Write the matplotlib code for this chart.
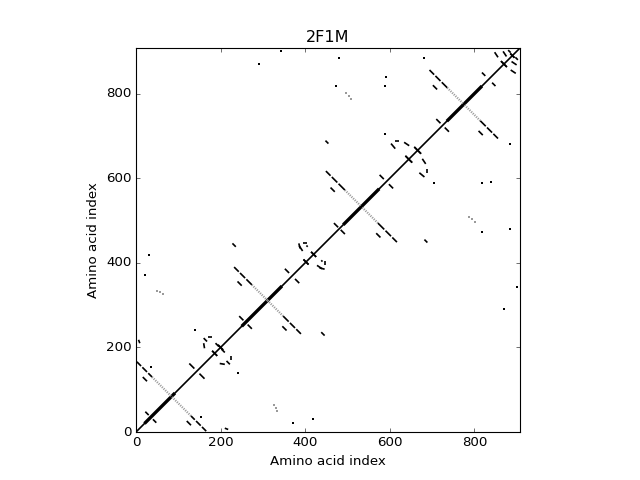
import matplotlib
matplotlib.use('Agg')
import matplotlib.pyplot as plt

# contact map of 2F1M, symmetric: everything is listed once (i < j) and mirrored
N_RES = 908
TICKS = [0, 200, 400, 600, 800]

# residue ranges where the diagonal band is thick (helices)
helix_ranges = [(20, 92), (250, 345), (490, 575), (735, 818)]

# antiparallel bands: black dashes (i0, j0, i1, j1)
band_dashes = [
    (2, 166, 12, 156), (15, 153, 26, 142), (29, 139, 38, 130),
    (232, 390, 243, 379), (246, 376, 258, 364), (261, 361, 274, 348),
    (449, 617, 460, 606), (463, 603, 476, 590), (479, 587, 494, 572),
    (694, 856, 705, 845), (708, 842, 720, 830), (723, 827, 736, 814),
]
# weak part of the same bands, from end of black part to the diagonal
band_weak = [
    (38, 130, 84, 84),
    (274, 348, 311, 311),
    (494, 572, 533, 533),
    (736, 814, 775, 775),
]
# shorter parallel dashes next to the bands
side_dashes = [
    (16, 130, 26, 120), (240, 356, 250, 346),
    (460, 578, 470, 568), (702, 820, 712, 810),
]
# small hairpins close to the diagonal
hairpins = [
    (22, 48, 30, 40), (126, 162, 138, 150), (244, 274, 254, 264),
    (352, 386, 362, 376), (468, 494, 478, 484), (576, 608, 586, 598),
    (710, 740, 720, 730), (818, 850, 826, 842),
]
# box shaped patterns around 190, 415, 655, 880
box_dashes = [
    (160, 222, 168, 214), (171, 225, 179, 225), (160, 210, 162, 198),
    (188, 210, 196, 202), (180, 192, 192, 180), (194, 206, 206, 194),
    (386, 440, 394, 428), (385, 446, 388, 434), (396, 447, 404, 447),
    (403, 441, 406, 438), (396, 408, 408, 396), (414, 426, 426, 414),
    (603, 682, 613, 670), (612, 687, 622, 687), (634, 685, 646, 677),
    (637, 653, 653, 637), (658, 674, 674, 658),
    (848, 898, 856, 886), (868, 900, 876, 888), (880, 903, 886, 897),
    (863, 877, 877, 863), (885, 895, 895, 885),
]
# isolated short contacts
lone_dashes = [
    (6, 218, 9, 210), (228, 446, 236, 438), (448, 689, 455, 682),
]
lone_i = [22, 30, 36, 140, 290, 344, 473, 481, 588, 589, 590, 680]
lone_j = [372, 419, 153, 241, 870, 902, 818, 884, 704, 818, 839, 884]
weak_i = [50, 57, 64, 497, 503, 508]
weak_j = [334, 330, 327, 802, 795, 788]

plt.style.use('classic')
fig = plt.figure(figsize=(8, 6), dpi=80, facecolor='white')
ax = fig.add_subplot(111)

def both(i0, j0, i1, j1, **kw):
    ax.plot([i0, i1], [j0, j1], **kw)
    ax.plot([j0, j1], [i0, i1], **kw)

# diagonal
ax.plot([0, N_RES], [0, N_RES], color='black', lw=1.5)
for a, b in helix_ranges:
    ax.plot([a, b], [a, b], color='black', lw=3.0, solid_capstyle='butt')

for seg in band_dashes + side_dashes + hairpins + box_dashes + lone_dashes:
    both(*seg, color='black', lw=1.5, solid_capstyle='butt')

for seg in band_weak:
    both(*seg, color='#9a9a9a', lw=2.0, ls=(0, (1, 1.1)))

ax.plot(lone_i, lone_j, 's', color='black', ms=1.9, mew=0)
ax.plot(lone_j, lone_i, 's', color='black', ms=1.9, mew=0)
ax.plot(weak_i, weak_j, 's', color='#9a9a9a', ms=2.4, mew=0)
ax.plot(weak_j, weak_i, 's', color='#9a9a9a', ms=2.4, mew=0)

ax.set_xlim(0, N_RES)
ax.set_ylim(0, N_RES)
ax.set_aspect('equal')
ax.set_xticks(TICKS)
ax.set_yticks(TICKS)
ax.set_title('2F1M')
ax.set_xlabel('Amino acid index')
ax.set_ylabel('Amino acid index')

plt.savefig('out.png', dpi=80, facecolor='white')
